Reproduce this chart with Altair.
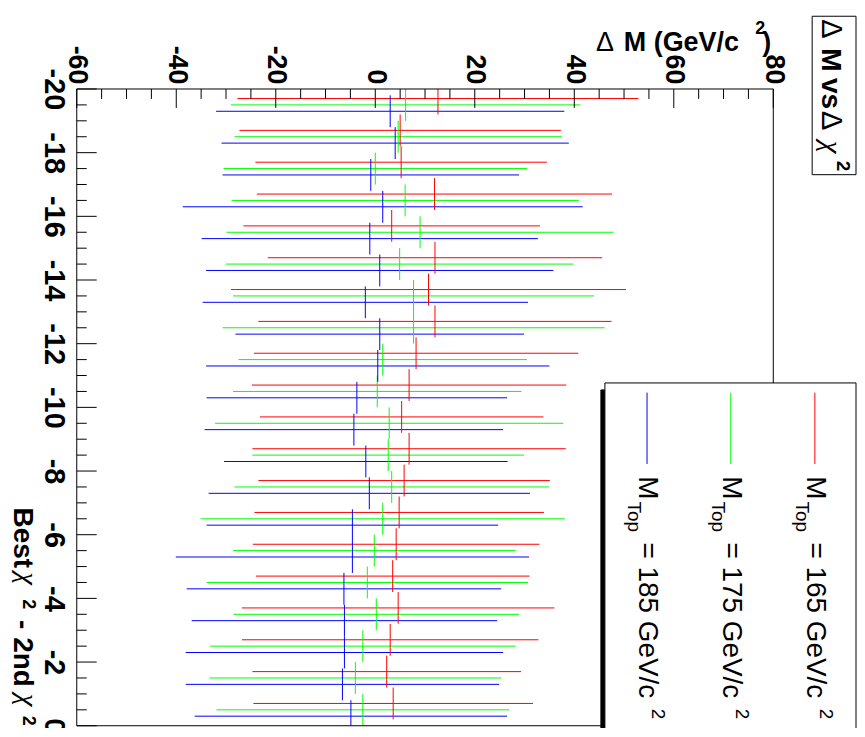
import altair as alt
import pandas as pd

# bins of "Best chi2 - 2nd chi2" (lower edges), width 1
bin_lo = list(range(-20, 0))
series = ["165", "175", "185"]
colors = ["#ff0000", "#00ff00", "#0000ff"]

# Delta M central values and symmetric errors, per bin (top -20 ... bottom -1)
r_c = [12.6, 5.0, 5.2, 11.9, 3.3, 12.0, 10.7, 12.0, 8.2, 6.8, 5.3, 6.8, 5.8, 4.8, 4.2, 3.5, 4.6, 3.0, 2.3, 3.6]
r_e = [40.3, 32.3, 29.3, 35.7, 29.8, 33.6, 39.7, 35.5, 32.6, 31.6, 28.5, 31.5, 29.3, 29.1, 28.8, 27.5, 31.4, 29.8, 27.0, 28.1]
g_c = [6.1, 4.6, 0.0, 6.0, 9.0, 4.9, 7.7, 7.7, 1.5, 0.4, 2.8, 2.6, 3.3, 1.5, -0.2, -1.6, 0.2, -2.5, -4.0, -2.5]
g_e = [35.1, 32.9, 30.5, 34.9, 38.9, 34.9, 36.3, 38.4, 29.0, 29.0, 35.0, 27.3, 31.6, 36.6, 28.4, 32.3, 28.7, 30.7, 29.3, 29.4]
b_c = [3.0, 4.0, -0.9, 1.5, -1.1, 0.9, -2.0, 0.9, 0.5, -3.7, -4.3, -1.9, -1.2, -4.6, -4.6, -6.3, -6.2, -6.2, -6.6, -4.9]
b_e = [35.0, 34.9, 29.8, 40.2, 33.8, 34.9, 32.7, 29.0, 34.5, 30.2, 30.0, 28.5, 32.3, 29.3, 35.5, 31.6, 30.7, 31.9, 31.5, 31.4]

x_ticks_major = [-60, -40, -20, 0, 20, 40, 60, 80]
x_ticks_minor = [v for v in range(-55, 80, 5) if v % 20 != 0]
y_ticks_major = [-20, -18, -16, -14, -12, -10, -8, -6, -4, -2, 0]
y_ticks_minor = [v / 2 for v in range(-39, 0) if v % 4 != 0]

offsets = {"165": 0.3, "175": 0.5, "185": 0.7}
rows = []
for s, cs, es in zip(series, [r_c, g_c, b_c], [r_e, g_e, b_e]):
    for lo, c, e in zip(bin_lo, cs, es):
        y = lo + offsets[s]
        rows.append(dict(series=s, y=y, c=c, lo=c - e, hi=c + e, ylo=y - 0.5, yhi=y + 0.5))
df = pd.DataFrame(rows)

W, H = 699, 639
xs = alt.Scale(domain=[-60, 80], nice=False, zero=False)
ys = alt.Scale(domain=[-20, 0], nice=False, zero=False, reverse=True)
xaxis = alt.Axis(orient="top", values=x_ticks_major, title=None, labelAngle=90, labelAlign="right",
                 labelBaseline="middle", labelPadding=5, labelFontSize=27, labelFont="Liberation Sans",
                 labelFontWeight="bold", labelColor="black", ticks=False, tickSize=0, domain=False,
                 grid=False, labelOverlap=False, labelFlush=False, labelBound=False,
                 labelExpr="'' + datum.value")
yaxis = alt.Axis(orient="left", values=y_ticks_major, title=None, labelAngle=90, labelAlign="center",
                 labelBaseline="top", labelPadding=9, labelFontSize=29, labelFont="Liberation Sans",
                 labelFontWeight="bold", labelColor="black", ticks=False, tickSize=0, domain=False,
                 grid=False, labelOverlap=False, labelFlush=False, labelBound=False,
                 labelExpr="'' + datum.value")
col = alt.Color("series:N", scale=alt.Scale(domain=series, range=colors), legend=None)

hbars = alt.Chart(df).mark_rule(strokeWidth=1, clip=True).encode(
    x=alt.X("lo:Q", scale=xs, axis=xaxis, title=None), x2="hi:Q",
    y=alt.Y("y:Q", scale=ys, axis=yaxis, title=None), color=col)
vticks = alt.Chart(df).mark_rule(strokeWidth=1, clip=True).encode(
    x=alt.X("c:Q", scale=xs, axis=xaxis, title=None),
    y=alt.Y("ylo:Q", scale=ys, axis=yaxis, title=None), y2="yhi:Q", color=col)


def xtick(vals, length):
    return alt.Chart(pd.DataFrame({"t": vals})).mark_rule(color="black", strokeWidth=1).encode(
        x=alt.X("t:Q", scale=xs, axis=xaxis, title=None), y=alt.value(0), y2=alt.value(length))


def ytick(vals, length):
    return alt.Chart(pd.DataFrame({"t": vals})).mark_rule(color="black", strokeWidth=1).encode(
        y=alt.Y("t:Q", scale=ys, axis=yaxis, title=None), x=alt.value(0), x2=alt.value(length))


one = pd.DataFrame({"k": [0]})


def txt(s, x, y, size=28, weight="normal", font="Liberation Sans", style="normal", angle=90):
    return alt.Chart(one).mark_text(text=s, fontSize=size, fontWeight=weight, font=font, fontStyle=style,
                                    angle=angle, align="left", baseline="alphabetic", color="black").encode(
        x=alt.value(x), y=alt.value(y))


def box(x, x2, y, y2, fill="white", stroke="black", sw=1, fo=1.0):
    return alt.Chart(one).mark_rect(fill=fill, fillOpacity=fo, stroke=stroke, strokeWidth=sw).encode(
        x=alt.value(x), x2=alt.value(x2), y=alt.value(y), y2=alt.value(y2))


def vline(x, y, y2, color):
    return alt.Chart(one).mark_rule(color=color, strokeWidth=1).encode(
        x=alt.value(x), y=alt.value(y), y2=alt.value(y2))


layers = [hbars, vticks,
          xtick(x_ticks_major, 19), xtick(x_ticks_minor, 10),
          ytick(y_ticks_major, 20), ytick(y_ticks_minor, 10),
          box(0, W, 0, H, fill="white", fo=0.0)]

# axis title (top, upright)
layers += [txt("Δ", 521, -38, size=27, angle=0),
           txt("M (GeV/c", 549, -38, size=27, weight="bold", angle=0),
           txt("2", 681, -55, size=18, weight="bold", angle=0),
           txt(")", 688, -38, size=27, weight="bold", angle=0)]

# axis title (left, rotated)
layers += [txt("Best", -63, 420, size=28, weight="bold"),
           txt("χ", -59, 485, size=29, font="Liberation Serif", style="italic"),
           txt("2", -54, 512, size=18, weight="bold"),
           txt("- 2nd", -63, 533, size=28, weight="bold"),
           txt("χ", -59, 607, size=29, font="Liberation Serif", style="italic"),
           txt("2", -54, 629, size=18, weight="bold")]

# title box
layers += [box(738, 782, -73, 86),
           txt("Δ", 748, -70, size=29),
           txt("M", 748, -41, size=28, weight="bold"),
           txt("vs", 748, -11, size=28, weight="bold"),
           txt("Δ", 748, 22, size=29),
           txt("χ", 748, 52, size=29, font="Liberation Serif", style="italic"),
           txt("2", 763, 72, size=19, weight="bold")]

# legend
layers += [box(526, 530, 302, 700, fill="black", stroke="black"),
           box(530, 782, 295, 700)]
for lx, s, c in zip([740.7, 656.3, 572.3], series, colors):
    layers += [vline(lx, 304.7, 376.3, c),
               txt("M", lx - 7.7, 388.7, size=28),
               txt("Top", lx - 18.7, 414, size=19),
               txt("= " + s + " GeV/c", lx - 7.7, 455, size=28),
               txt("2", lx + 5.3, 622, size=19)]

chart = alt.layer(*layers).properties(
    width=W, height=H,
    padding={"left": 69, "top": 80, "right": 84, "bottom": 1},
    autosize=alt.AutoSizeParams(type="none"),
).configure_view(stroke=None)

chart.save("out.html", embed_options={"renderer": "svg", "actions": False})
